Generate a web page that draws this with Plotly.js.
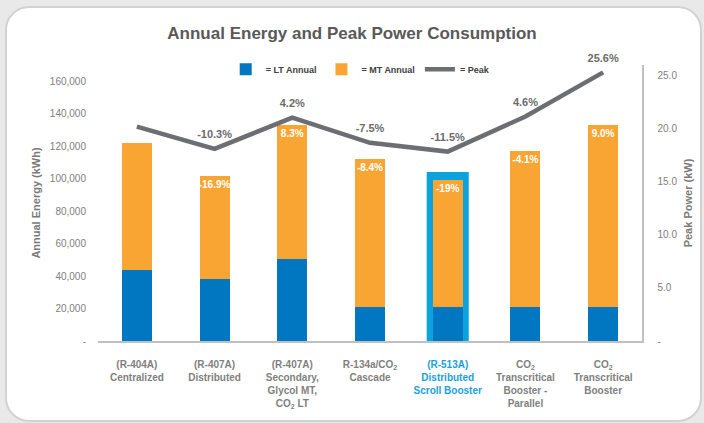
<!DOCTYPE html>
<html>
<head>
<meta charset="utf-8">
<script src="https://cdn.plot.ly/plotly-3.0.1.min.js"></script>
<style>
  html, body { margin: 0; padding: 0; background: #e9e9ea; }
  #wrap { position: relative; width: 704px; height: 423px; overflow: hidden; }
  #card { position: absolute; left: 5px; top: 6px; width: 693px; height: 412px;
          background: #ffffff; border: 2px solid #d2d2d4; border-radius: 24px; }
  #chart { position: absolute; left: 0; top: 0; width: 704px; height: 423px; }
</style>
</head>
<body>
<div id="wrap"><div id="card"></div><div id="chart"></div></div>
<script>
// ---- data ----
const categories = ["c1", "c2", "c3", "c4", "c5", "c6", "c7"];
const tickLabels = [
  "(R-404A)<br>Centralized",
  "(R-407A)<br>Distributed",
  "(R-407A)<br>Secondary,<br>Glycol MT,<br>CO<sub>2</sub> LT",
  "R-134a/CO<sub>2</sub><br>Cascade",
  "<span style=\"color:#18a2dc\">(R-513A)<br>Distributed<br>Scroll Booster</span>",
  "CO<sub>2</sub><br>Transcritical<br>Booster -<br>Parallel",
  "CO<sub>2</sub><br>Transcritical<br>Booster"
];
const ltAnnual = [43600, 38400, 50300, 21100, 21100, 21100, 21100];
const mtTotal  = [122000, 101400, 132800, 111900, 99300, 116800, 133300];
const mtAnnual = mtTotal.map((t, i) => t - ltAnnual[i]);
const barLabels = ["", "-16.9%", "8.3%", "-8.4%", "-19%", "-4.1%", "9.0%"];
const peakKW = [20.15, 18.05, 21.0, 18.63, 17.8, 21.1, 25.25];
const peakLabels = ["", "-10.3%", "4.2%", "-7.5%", "-11.5%", "4.6%", "25.6%"];
const highlightIndex = 4;
const leftTicks = [0, 20000, 40000, 60000, 80000, 100000, 120000, 140000, 160000];
const leftTickText = ["-", "20,000", "40,000", "60,000", "80,000", "100,000", "120,000", "140,000", "160,000"];
const rightTicks = [0, 5, 10, 15, 20, 25];
const rightTickText = ["-", "5.0", "10.0", "15.0", "20.0", "25.0"];

const BLUE = "#0077c0", ORANGE = "#f9a533", GRAY = "#6d6e71", CYAN = "#0aa3dc";
const FONT = "Liberation Sans, Arial, sans-serif";
const BAR_W = 0.385;

const traces = [
  { type: "bar", name: "= LT Annual", x: categories, y: ltAnnual,
    marker: { color: BLUE }, width: BAR_W, hoverinfo: "y" },
  { type: "bar", name: "= MT Annual", x: categories, y: mtAnnual,
    marker: { color: ORANGE }, width: BAR_W,
    text: barLabels, textposition: "inside", insidetextanchor: "end",
    constraintext: "none", textangle: 0,
    textfont: { color: "#ffffff", size: 10, family: FONT, weight: "bold" } },
  { type: "scatter", mode: "lines+markers+text", name: "= Peak", x: categories, y: peakKW,
    yaxis: "y2", line: { color: GRAY, width: 4.5 }, cliponaxis: false,
    marker: { size: 11, color: "rgba(0,0,0,0)" },
    text: peakLabels, textposition: "top center",
    textfont: { color: "#6b6b6b", size: 11, family: FONT, weight: "bold" } }
];

// highlight frame for the selected configuration (computed from data)
const padX = 0.078, padY = 4900;
const hl = {
  type: "rect", xref: "x", yref: "y", layer: "below",
  x0: highlightIndex - BAR_W / 2 - padX, x1: highlightIndex + BAR_W / 2 + padX,
  y0: 0, y1: mtTotal[highlightIndex] + padY,
  fillcolor: CYAN, line: { width: 0 }
};

const layout = {
  width: 704, height: 423,
  paper_bgcolor: "rgba(0,0,0,0)", plot_bgcolor: "rgba(0,0,0,0)",
  margin: { l: 98, r: 62, t: 65, b: 82 },
  barmode: "stack", bargap: 0.6,
  font: { family: FONT, color: "#7f7f7f" },
  title: { text: "Annual Energy and Peak Power Consumption",
    font: { size: 17, color: "#595959", family: FONT, weight: "bold" },
    x: 0.5, xanchor: "center", y: 1 - 33 / 423, yanchor: "middle", yref: "container" },
  showlegend: true,
  legend: { orientation: "h", x: 0.482, xanchor: "center", y: 0.985, yanchor: "middle",
    font: { size: 9, color: "#404040", family: FONT, weight: "bold" },
    bgcolor: "rgba(0,0,0,0)", itemwidth: 30, traceorder: "normal" },
  xaxis: { type: "category", tickmode: "array", tickvals: categories, ticktext: tickLabels,
    showgrid: false, zeroline: false, showline: true, linecolor: "#c0c0c0", linewidth: 1.5,
    ticks: "", ticklabelstandoff: 13,
    tickfont: { size: 10, color: "#7f7f7f", family: FONT, weight: "bold" } },
  yaxis: { range: [0, 170060], tickmode: "array", tickvals: leftTicks, ticktext: leftTickText,
    showgrid: false, zeroline: false, showline: false, ticks: "", ticklabelstandoff: 11,
    tickfont: { size: 10, color: "#808080", family: FONT },
    title: { text: "Annual Energy (kWh)", standoff: 6,
      font: { size: 11, color: "#7a7a7a", family: FONT, weight: "bold" } } },
  yaxis2: { overlaying: "y", side: "right", range: [0, 25.94], tickmode: "array",
    tickvals: rightTicks, ticktext: rightTickText,
    showgrid: false, zeroline: false, showline: true, linecolor: "#c0c0c0", linewidth: 1.5,
    ticks: "", ticklabelstandoff: 12,
    tickfont: { size: 10, color: "#808080", family: FONT },
    title: { text: "Peak Power (kW)", standoff: 8,
      font: { size: 11, color: "#7a7a7a", family: FONT, weight: "bold" } } },
  shapes: [hl]
};

Plotly.newPlot("chart", traces, layout, { displayModeBar: false, staticPlot: true });
</script>
</body>
</html>
